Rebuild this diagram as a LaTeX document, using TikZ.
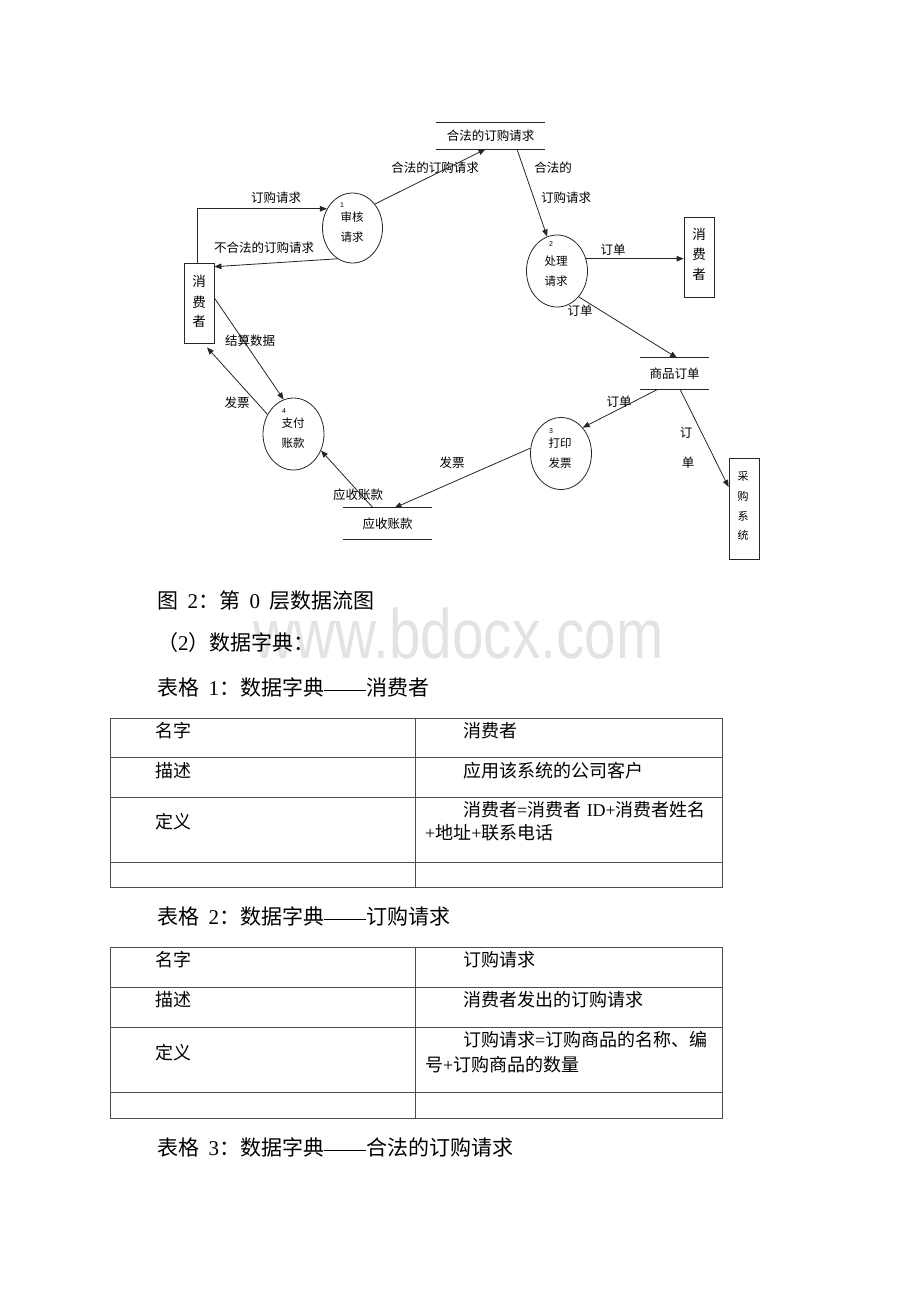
\documentclass[tikz,border=0pt]{standalone}
\usepackage{fontspec}
\setmainfont{Liberation Serif}
\newfontfamily\cjk{Noto Sans CJK SC}
\newfontfamily\arial{Liberation Sans}
\usetikzlibrary{arrows.meta,shapes.geometric,calc}
\newcommand{\hsp}{\hspace{0.45em}}
\newcommand{\ddash}{\rule[0.17em]{2em}{0.05em}}
\begin{document}
\begin{tikzpicture}[x=1pt,y=-1pt,
  ln/.style={line width=0.8pt, draw=black!85},
  arr/.style={ln, -{Triangle[length=7pt,width=5.5pt]}},
  proc/.style={ellipse, draw=black!85, line width=0.8pt, minimum width=61pt, minimum height=72pt, inner sep=0pt},
  ent/.style={rectangle, draw=black!85, line width=0.8pt, minimum width=30pt, inner sep=0pt},
  store/.style={rectangle, inner sep=0pt, font=\cjk\fontsize{12.5}{14}\selectfont, text height=9.5pt, text depth=0pt},
  lab/.style={inner sep=0pt, font=\cjk\fontsize{12.5}{14}\selectfont, text height=9.5pt, text depth=0pt},
  ptxt/.style={inner sep=0pt, font=\cjk\fontsize{11.5}{13}\selectfont, text height=8.7pt, text depth=0pt},
  etxt/.style={inner sep=0pt, font=\cjk\fontsize{13.5}{15}\selectfont, text height=10.3pt, text depth=0pt},
  esm/.style={inner sep=0pt, font=\cjk\fontsize{11}{13}\selectfont, text height=8.4pt, text depth=0pt},
  num/.style={inner sep=0pt, font=\arial\fontsize{7}{8}\selectfont},
  captxt/.style={anchor=west, inner sep=0pt, font=\fontsize{21}{24}\selectfont, text height=16pt, text depth=0pt},
  tt/.style={anchor=west, inner sep=0pt, font=\fontsize{18}{20}\selectfont, text height=13.7pt, text depth=0pt},
  tl/.style={line width=0.9pt, draw=black!70},
  wm/.style={inner sep=0pt, anchor=base, font=\arial\fontsize{70}{70}\selectfont, text=black!11, xscale=0.81}
]
\useasboundingbox (0,0) rectangle (920,1302);
\fill[white] (0,0) rectangle (920,1302);

% watermark
\node[wm] (wm) at (458.5,658) {www.bdocx.com};

% processes
\node[proc, minimum width=60pt, minimum height=70pt] (c1) at (352.5,228) {};
\node[proc] (c2) at (557,271) {};
\node[proc] (c3) at (561,453.5) {};
\node[proc] (c4) at (293.5,434) {};

\node[num] (n1) at (342,205) {1};
\node[ptxt] (c1a) at (352,217) {审核};
\node[ptxt] (c1b) at (352,237) {请求};
\node[num] (n2) at (551,244) {2};
\node[ptxt] (c2a) at (556,261) {处理};
\node[ptxt] (c2b) at (556,281) {请求};
\node[num] (n3) at (551,431) {3};
\node[ptxt] (c3a) at (560,443) {打印};
\node[ptxt] (c3b) at (560,463) {发票};
\node[num] (n4) at (284,411) {4};
\node[ptxt] (c4a) at (293,423) {支付};
\node[ptxt] (c4b) at (293,443) {账款};

% entities
\node[ent, minimum height=80pt] (L) at (199,303) {};
\node[etxt] (L1) at (199,281) {消};
\node[etxt] (L2) at (199,302) {费};
\node[etxt] (L3) at (199,321) {者};
\node[ent, minimum height=80pt] (R) at (699,257) {};
\node[etxt] (R1) at (699,234) {消};
\node[etxt] (R2) at (699,254) {费};
\node[etxt] (R3) at (699,274) {者};
\node[ent, minimum height=101pt] (P) at (744,508.5) {};
\node[esm] (P1) at (743,476) {采};
\node[esm] (P2) at (743,496) {购};
\node[esm] (P3) at (743,516) {系};
\node[esm] (P4) at (743,535) {统};

% stores
\node[store, minimum width=109pt, minimum height=26.5pt] (S1) at (490.5,135.75) {合法的订购请求};
\draw[ln] (S1.north west) -- (S1.north east) (S1.south west) -- (S1.south east);
\node[store, minimum width=69pt, minimum height=31pt] (S2) at (674.5,373.5) {商品订单};
\draw[ln] (S2.north west) -- (S2.north east) (S2.south west) -- (S2.south east);
\node[store, minimum width=89pt, minimum height=31pt] (S3) at (387.5,523.5) {应收账款};
\draw[ln] (S3.north west) -- (S3.north east) (S3.south west) -- (S3.south east);

% flows
\draw[arr] ($(L.north)+(-1.5,0)$) |- (c1.143);
\draw[arr] (c1.244) -- (L.67.4);
\draw[arr] (c1.47) -- ($(S1.south)+(-5,0)$);
\draw[arr] ($(S1.south)+(26.5,0)$) -- (c2.106);
\draw[arr] (c2.23) -- (c2.23 -| R.west);
\draw[arr] (c2.-50) -- ($(S2.north)+(2.5,0)$);
\draw[arr] ($(S2.south)+(-16.5,0)$) -- (c3.50);
\draw[arr] ($(S2.south)+(5.5,0)$) -- ($(P.west)+(0,-21.5)$);
\draw[arr] (c3.170) -- ($(S3.north)+(7,0)$);
\draw[arr] ($(S3.north)+(-14.5,0)$) -- (c4.-31);
\draw[arr] ($(L.east)+(0,-5)$) -- (c4.106);
\draw[arr] (c4.143) -- ($(L.south)+(8,4)$);

% flow labels
\node[lab] (f1) at (276,198) {订购请求};
\node[lab] (f2) at (264,248) {不合法的订购请求};
\node[lab] (f3) at (435,168) {合法的订购请求};
\node[lab] (f4a) at (553,168) {合法的};
\node[lab] (f4b) at (566,198) {订购请求};
\node[lab] (f5) at (613,250) {订单};
\node[lab] (f6) at (580,311) {订单};
\node[lab] (f7) at (619,402) {订单};
\node[lab] (f8a) at (686,433) {订};
\node[lab] (f8b) at (688,463) {单};
\node[lab] (f9) at (452,463) {发票};
\node[lab] (f10) at (358,495) {应收账款};
\node[lab] (f11) at (250,341) {结算数据};
\node[lab] (f12) at (237,403) {发票};

% captions
\node[captxt] (cap1) at (157,600) {{\cjk 图}\hsp 2{\cjk ：第}\hsp 0\hsp{\cjk 层数据流图}};
\node[captxt] (cap2) at (157,642) {{\cjk （}2{\cjk ）数据字典：}};
\node[captxt] (cap3) at (157,687) {{\cjk 表格}\hsp 1{\cjk ：数据字典}\ddash{\cjk 消费者}};
\node[captxt] (cap4) at (157,916) {{\cjk 表格}\hsp 2{\cjk ：数据字典}\ddash{\cjk 订购请求}};
\node[captxt] (cap5) at (157,1147) {{\cjk 表格}\hsp 3{\cjk ：数据字典}\ddash{\cjk 合法的订购请求}};

% table 1
\draw[tl] (110,718) rectangle (722,887);
\draw[tl] (415.5,718) -- (415.5,887);
\foreach \y in {757,797,862} \draw[tl] (110,\y) -- (722,\y);
\node[tt] (a11) at (155,731) {\cjk 名字};
\node[tt] (a12) at (463,731) {\cjk 消费者};
\node[tt] (a21) at (155,771) {\cjk 描述};
\node[tt] (a22) at (463,771) {\cjk 应用该系统的公司客户};
\node[tt] (a31) at (155,822) {\cjk 定义};
\node[tt] (a32) at (463,810) {{\cjk 消费者}={\cjk 消费者}\hspace{0.3em}ID+{\cjk 消费者姓名}};
\node[tt] (a33) at (425,833) {+{\cjk 地址}+{\cjk 联系电话}};

% table 2
\draw[tl] (110,947) rectangle (722,1118);
\draw[tl] (415.5,947) -- (415.5,1118);
\foreach \y in {987,1027,1092} \draw[tl] (110,\y) -- (722,\y);
\node[tt] (b11) at (155,960) {\cjk 名字};
\node[tt] (b12) at (463,960) {\cjk 订购请求};
\node[tt] (b21) at (155,1000) {\cjk 描述};
\node[tt] (b22) at (463,1000) {\cjk 消费者发出的订购请求};
\node[tt] (b31) at (155,1053) {\cjk 定义};
\node[tt] (b32) at (463,1040) {{\cjk 订购请求}={\cjk 订购商品的名称、编}};
\node[tt] (b33) at (425,1065) {{\cjk 号}+{\cjk 订购商品的数量}};
\end{tikzpicture}
\end{document}
